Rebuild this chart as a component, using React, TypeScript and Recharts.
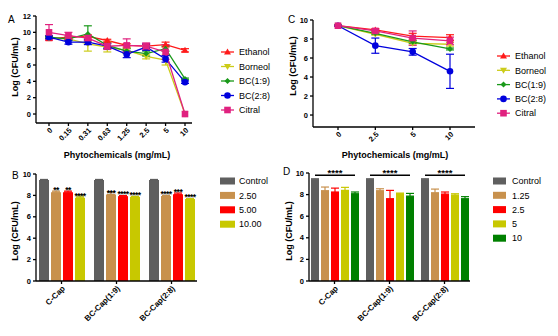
import React from 'react';
import { LineChart, Line, BarChart, Bar, XAxis, YAxis, ErrorBar, LabelList } from 'recharts';

const FONT = '"Liberation Sans", Arial, sans-serif';

// ---- panel A: 24 h, concentrations
const concA = ['0', '0.15', '0.31', '0.63', '1.25', '2.5', '5', '10'];
const ethanolA = [9.2, 9.4, 9.5, 9.0, 8.4, 8.3, 8.5, 7.8];
const ethanolAErr = [0.15, 0.15, 0.2, 0.15, 0.2, 0.2, 0.3, 0.2];
const borneolA = [9.3, 9.2, 8.6, 8.2, 7.8, 7.05, 6.6, 0];
const borneolAErr = [0.1, 0.1, 0.9, 0.6, 0.3, 0.3, 0.6, 0];
const bc19A = [9.4, 9.2, 9.8, 8.4, 7.7, 7.4, 8.0, 4.3];
const bc19AErr = [0.1, 0.2, 1.0, 0.3, 0.3, 0.3, 0.3, 0.1];
const bc28A = [9.4, 8.8, 8.8, 8.3, 7.3, 8.2, 6.75, 3.9];
const bc28AErr = [0.2, 0.25, 0.3, 0.3, 0.4, 0.4, 0.4, 0.15];
const citralA = [10.0, 9.6, 9.3, 8.3, 8.4, 8.3, 7.6, 0];
const citralAErr = [0.95, 0.4, 0.3, 0.4, 0.8, 0.4, 0.9, 0];

// ---- panel C
const concC = ['0', '2.5', '5', '10'];
const ethanolC = [9.4, 8.95, 8.3, 8.15];
const ethanolCErr = [0.05, 0.15, 0.3, 0.3];
const borneolC = [9.4, 8.5, 7.55, 7.45];
const borneolCErr = [0.05, 0.1, 0.2, 0.2];
const bc19C = [9.4, 8.6, 7.7, 6.95];
const bc19CErr = [0.05, 0.1, 0.15, 0.1];
const bc28C = [9.4, 7.3, 6.65, 4.6];
const bc28CErr = [0.05, 0.8, 0.35, 1.8];
const citralC = [9.4, 8.85, 8.1, 7.8];
const citralCErr = [0.05, 0.15, 0.75, 0.4];

// ---- panel B
const capsules = ['C-Cap', 'BC-Cap(1:9)', 'BC-Cap(2:8)'];
const controlB = [9.45, 9.45, 9.45];
const controlBErr = [0.04, 0.04, 0.04];
const c250B = [8.3, 8.08, 7.95];
const c250BErr = [0.1, 0.22, 0.05];
const c500B = [8.3, 7.93, 8.1];
const c500BErr = [0.1, 0.05, 0.12];
const c1000B = [7.78, 7.87, 7.66];
const c1000BErr = [0.16, 0.04, 0.03];
const sig250B = ['**', '***', '****'];
const sig500B = ['**', '****', '***'];
const sig1000B = ['****', '****', '****'];

// ---- panel D
const controlD = [9.42, 9.42, 9.42];
const controlDErr = [0.04, 0.04, 0.04];
const c125D = [8.36, 8.36, 8.17];
const c125DErr = [0.34, 0.18, 0.34];
const c25D = [8.24, 7.62, 8.05];
const c25DErr = [0.36, 0.77, 0.19];
const c5D = [8.39, 8.08, 7.96];
const c5DErr = [0.28, 0.06, 0.12];
const c10D = [8.08, 7.86, 7.62];
const c10DErr = [0.16, 0.25, 0.19];
const sigD = ['****', '****', '****'];

const yTicksA = [0, 2, 4, 6, 8, 10, 12];
const yTicks10 = [0, 2, 4, 6, 8, 10];

const lineSeries = [
  { key: 'ethanol', name: 'Ethanol', color: '#ff1a1a', shape: 'up' },
  { key: 'borneol', name: 'Borneol', color: '#cccc1a', shape: 'down' },
  { key: 'bc19', name: 'BC(1:9)', color: '#1a991a', shape: 'diamond' },
  { key: 'bc28', name: 'BC(2:8)', color: '#0000dd', shape: 'circle' },
  { key: 'citral', name: 'Citral', color: '#e0217f', shape: 'square' },
];

const dataA = concA.map((c, i) => ({
  conc: c,
  ethanol: ethanolA[i], ethanolErr: ethanolAErr[i],
  borneol: borneolA[i], borneolErr: borneolAErr[i],
  bc19: bc19A[i], bc19Err: bc19AErr[i],
  bc28: bc28A[i], bc28Err: bc28AErr[i],
  citral: citralA[i], citralErr: citralAErr[i],
}));

const dataC = concC.map((c, i) => ({
  conc: c,
  ethanol: ethanolC[i], ethanolErr: ethanolCErr[i],
  borneol: borneolC[i], borneolErr: borneolCErr[i],
  bc19: bc19C[i], bc19Err: bc19CErr[i],
  bc28: bc28C[i], bc28Err: bc28CErr[i],
  citral: citralC[i], citralErr: citralCErr[i],
}));

const barSeriesB = [
  { key: 'control', name: 'Control', color: '#5f5f5f', sig: null },
  { key: 'c250', name: '2.50', color: '#c8914d', sig: 's250' },
  { key: 'c500', name: '5.00', color: '#ff0000', sig: 's500' },
  { key: 'c1000', name: '10.00', color: '#c8c800', sig: 's1000' },
];

const dataB = capsules.map((c, i) => ({
  cap: c,
  control: controlB[i], controlErr: controlBErr[i],
  c250: c250B[i], c250Err: c250BErr[i], s250: sig250B[i],
  c500: c500B[i], c500Err: c500BErr[i], s500: sig500B[i],
  c1000: c1000B[i], c1000Err: c1000BErr[i], s1000: sig1000B[i],
}));

const barSeriesD = [
  { key: 'control', name: 'Control', color: '#5f5f5f' },
  { key: 'c125', name: '1.25', color: '#c8914d' },
  { key: 'c25', name: '2.5', color: '#ff0000' },
  { key: 'c5', name: '5', color: '#c8c800' },
  { key: 'c10', name: '10', color: '#008000' },
];

const dataD = capsules.map((c, i) => ({
  cap: c,
  control: controlD[i], controlErr: controlDErr[i], sig: sigD[i],
  c125: c125D[i], c125Err: c125DErr[i],
  c25: c25D[i], c25Err: c25DErr[i],
  c5: c5D[i], c5Err: c5DErr[i],
  c10: c10D[i], c10Err: c10DErr[i],
}));

function Marker({ cx, cy, shape, color }: any) {
  if (cx == null || cy == null) return null;
  if (shape === 'up') {
    return <polygon points={`${cx},${cy - 3.5} ${cx - 3.5},${cy + 2.5} ${cx + 3.5},${cy + 2.5}`} fill={color} />;
  }
  if (shape === 'down') {
    return <polygon points={`${cx},${cy + 3.5} ${cx - 3.5},${cy - 2.5} ${cx + 3.5},${cy - 2.5}`} fill={color} />;
  }
  if (shape === 'diamond') {
    return <polygon points={`${cx},${cy - 3} ${cx + 3},${cy} ${cx},${cy + 3} ${cx - 3},${cy}`} fill={color} />;
  }
  if (shape === 'circle') {
    return <circle cx={cx} cy={cy} r={3.3} fill={color} />;
  }
  return <rect x={cx - 3.3} y={cy - 3.3} width={6.6} height={6.6} fill={color} />;
}

function SlantTick(props: any) {
  const { x, y, payload, fs } = props;
  return (
    <g transform={`translate(${x + 2},${y + 1}) rotate(-45)`}>
      <text x={0} y={0} dy="0.35em" textAnchor="end" fontSize={fs} fontWeight="bold" fill="#000" fontFamily={FONT}>
        {payload.value}
      </text>
    </g>
  );
}

// stars drawn just above a B-panel bar
function Stars(props: any) {
  const vb = props.viewBox || props;
  if (!props.value) return null;
  return (
    <text x={vb.x + vb.width / 2} y={vb.y + 1} textAnchor="middle" fontSize={8.5} letterSpacing={-0.5}
      fontWeight="bold" fill="#000" fontFamily={FONT}>
      {props.value}
    </text>
  );
}

function SigBracket(props: any) {
  const vb = props.viewBox || props;
  const x = vb.x;
  const y = vb.y;
  const groupW = 5 * 8 + 4 * 2;
  const ly = y - 4;
  return (
    <g>
      <line x1={x + 4} x2={x + groupW - 4} y1={ly} y2={ly} stroke="#000" strokeWidth={1.3} />
      <text x={x + groupW / 2} y={ly + 1} textAnchor="middle" fontSize={9.5} fontWeight="bold" fill="#000" fontFamily={FONT}>
        {props.value}
      </text>
    </g>
  );
}

const axisStyle = { stroke: '#000', strokeWidth: 1.3 };
const yTick = { fontSize: 7.5, fontWeight: 'bold', fill: '#000', fontFamily: FONT };

function LinePanel({ data, domain, padding, margin, yWidth, xHeight, width }: any) {
  return (
    <LineChart width={width} height={168} data={data} margin={margin}>
      <XAxis
        dataKey="conc"
        interval={0}
        padding={padding}
        height={xHeight}
        axisLine={axisStyle}
        tickLine={axisStyle}
        tickSize={3}
        tickMargin={2}
        tick={(p: any) => <SlantTick {...p} fs={7.5} />}
      />
      <YAxis
        domain={domain}
        ticks={domain[1] === 12 ? yTicksA : yTicks10}
        width={yWidth}
        axisLine={axisStyle}
        tickLine={axisStyle}
        tickSize={3}
        tickMargin={2}
        tick={yTick}
        allowDataOverflow
      />
      {lineSeries.map((s) => (
        <Line
          key={s.key}
          dataKey={s.key}
          type="linear"
          stroke={s.color}
          strokeWidth={1.3}
          isAnimationActive={false}
          dot={(p: any) => <Marker key={`${s.key}-${p.index}`} cx={p.cx} cy={p.cy} shape={s.shape} color={s.color} />}
          activeDot={false}
        >
          <ErrorBar dataKey={`${s.key}Err`} width={4} stroke={s.color} strokeWidth={1.2} direction="y" isAnimationActive={false} />
        </Line>
      ))}
    </LineChart>
  );
}

function LineLegend({ x, y, step }: any) {
  return (
    <g>
      {lineSeries.map((s, i) => {
        const cy = y + i * step;
        return (
          <g key={s.key}>
            <line x1={x} x2={x + 13} y1={cy} y2={cy} stroke={s.color} strokeWidth={1.3} />
            <Marker cx={x + 6.5} cy={cy} shape={s.shape} color={s.color} />
            <text x={x + 18} y={cy + 3.2} fontSize={9} fill="#000" fontFamily={FONT}>{s.name}</text>
          </g>
        );
      })}
    </g>
  );
}

function BarLegend({ series, x, y, step, sw, tx }: any) {
  return (
    <g>
      {series.map((s: any, i: number) => {
        const cy = y + i * step;
        return (
          <g key={s.key}>
            <rect x={x} y={cy - 3.5} width={sw} height={7} fill={s.color} />
            <text x={tx} y={cy + 3.2} fontSize={9} fill="#000" fontFamily={FONT}>{s.name}</text>
          </g>
        );
      })}
    </g>
  );
}

const labelStyle: any = { fontSize: 9, fontWeight: 'bold', fill: '#000', fontFamily: FONT };

export default function App() {
  return (
    <div style={{ position: 'absolute', left: 0, top: 0, width: 558, height: 336, background: '#fff', fontFamily: FONT }}>
      <div style={{ position: 'absolute', left: 0, top: 0 }}>
        <LinePanel data={dataA} width={280} domain={[-1.1, 12]} padding={{ left: 13, right: 7 }}
          margin={{ top: 16, right: 88, bottom: 0, left: 0 }} yWidth={36} xHeight={45} />
      </div>
      <div style={{ position: 'absolute', left: 280, top: 0 }}>
        <LinePanel data={dataC} width={278} domain={[-1.26, 10]} padding={{ left: 25, right: 25 }}
          margin={{ top: 20, right: 83, bottom: 0, left: 0 }} yWidth={33} xHeight={41} />
      </div>

      <div style={{ position: 'absolute', left: 0, top: 165 }}>
        <BarChart width={280} height={171} data={dataB} margin={{ top: 9, right: 83, bottom: 0, left: 0 }} barGap={2}>
          <XAxis dataKey="cap" interval={0} padding={{ left: -2, right: -2 }} height={55}
            axisLine={axisStyle} tickLine={axisStyle} tickSize={3} tickMargin={2}
            tick={(p: any) => <SlantTick {...p} fs={8} />} />
          <YAxis domain={[0, 10]} ticks={yTicks10} width={36} axisLine={axisStyle} tickLine={axisStyle}
            tickSize={3} tickMargin={2} tick={yTick} />
          {barSeriesB.map((s) => (
            <Bar key={s.key} dataKey={s.key} fill={s.color} barSize={10} isAnimationActive={false}>
              <ErrorBar dataKey={(d: any) => [0, d[`${s.key}Err`]]} width={4} stroke={s.color} strokeWidth={1.2} direction="y" isAnimationActive={false} />
              {s.sig && <LabelList dataKey={s.sig} content={Stars} />}
            </Bar>
          ))}
        </BarChart>
      </div>

      <div style={{ position: 'absolute', left: 280, top: 165 }}>
        <BarChart width={278} height={171} data={dataD} margin={{ top: 8, right: 88, bottom: 0, left: 0 }} barGap={2}>
          <XAxis dataKey="cap" interval={0} padding={{ left: -2, right: -2 }} height={55}
            axisLine={axisStyle} tickLine={axisStyle} tickSize={3} tickMargin={2}
            tick={(p: any) => <SlantTick {...p} fs={8} />} />
          <YAxis domain={[0, 10]} ticks={yTicks10} width={29} axisLine={axisStyle} tickLine={axisStyle}
            tickSize={3} tickMargin={2} tick={yTick} />
          {barSeriesD.map((s) => (
            <Bar key={s.key} dataKey={s.key} fill={s.color} barSize={8} isAnimationActive={false}>
              <ErrorBar dataKey={(d: any) => [0, d[`${s.key}Err`]]} width={4} stroke={s.color} strokeWidth={1.2} direction="y" isAnimationActive={false} />
              {s.key === 'control' && <LabelList dataKey="sig" content={SigBracket} />}
            </Bar>
          ))}
        </BarChart>
      </div>

      <svg width={558} height={336} style={{ position: 'absolute', left: 0, top: 0, pointerEvents: 'none' }}>
        <text x={8} y={23} fontSize={10} fill="#000" fontFamily={FONT}>A</text>
        <text x={288} y={23} fontSize={10} fill="#000" fontFamily={FONT}>C</text>
        <text x={12} y={179} fontSize={10} fill="#000" fontFamily={FONT}>B</text>
        <text x={283} y={175} fontSize={10} fill="#000" fontFamily={FONT}>D</text>

        <text {...labelStyle} textAnchor="middle" transform="translate(18,67) rotate(-90)">Log (CFU/mL)</text>
        <text {...labelStyle} textAnchor="middle" transform="translate(296,66) rotate(-90)">Log (CFU/mL)</text>
        <text {...labelStyle} textAnchor="middle" transform="translate(18,231) rotate(-90)">Log (CFU/mL)</text>
        <text {...labelStyle} textAnchor="middle" transform="translate(292,231) rotate(-90)">Log (CFU/mL)</text>

        <text {...labelStyle} textAnchor="middle" x={117} y={158}>Phytochemicals (mg/mL)</text>
        <text {...labelStyle} textAnchor="middle" x={395} y={158}>Phytochemicals (mg/mL)</text>

        <LineLegend x={221} y={52} step={14.5} />
        <LineLegend x={497} y={56} step={14.3} />
        <BarLegend series={barSeriesB} x={220} y={181} step={14.4} sw={15} tx={239} />
        <BarLegend series={barSeriesD} x={493} y={181} step={14.3} sw={13} tx={512} />
      </svg>
    </div>
  );
}
